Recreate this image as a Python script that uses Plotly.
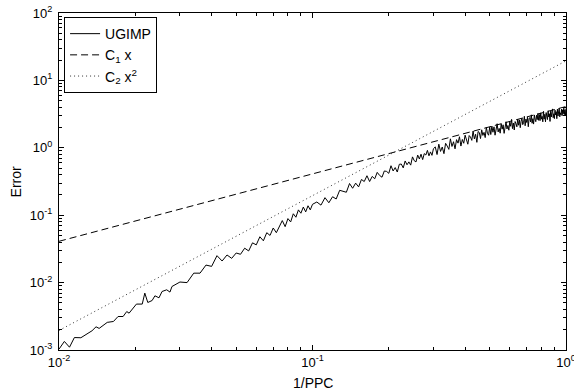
import plotly.graph_objects as go

# ---- data ----
x_sparse = [0.0100, 0.0105, 0.0110, 0.0115, 0.0122, 0.0130, 0.0135, 0.0140, 0.0144, 0.0155,
            0.0164, 0.0171, 0.0179, 0.0185, 0.0189, 0.0202, 0.0213, 0.0218, 0.0224, 0.0233,
            0.0239, 0.0248, 0.0255, 0.0266, 0.0274, 0.0279]
y_sparse = [0.00103, 0.00134, 0.00110, 0.00153, 0.00152, 0.00178, 0.00193, 0.00221, 0.00209, 0.00257,
            0.00265, 0.00314, 0.00314, 0.00372, 0.00352, 0.00480, 0.00480, 0.00698, 0.00507, 0.00542,
            0.00637, 0.00595, 0.00738, 0.00782, 0.00723, 0.00875]

x_b = [0.030, 0.032, 0.034, 0.036, 0.038, 0.040, 0.042, 0.044, 0.046, 0.048,
       0.050, 0.052, 0.054, 0.056, 0.058, 0.060, 0.062, 0.064, 0.066, 0.068,
       0.070, 0.072, 0.074, 0.076, 0.078, 0.080, 0.082, 0.084, 0.086, 0.088,
       0.090, 0.092, 0.094, 0.096, 0.098, 0.100]
y_b = [0.0102, 0.0100, 0.0138, 0.0138, 0.0182, 0.0174, 0.0251, 0.0209, 0.0257, 0.0229,
       0.0275, 0.0263, 0.0324, 0.0295, 0.0389, 0.0363, 0.0479, 0.0417, 0.0550, 0.0501,
       0.0646, 0.0550, 0.0692, 0.0832, 0.0676, 0.0891, 0.0794, 0.105, 0.0933, 0.120,
       0.107, 0.132, 0.112, 0.138, 0.120, 0.145]

x_c = [0.104, 0.108, 0.112, 0.116, 0.120, 0.124, 0.128, 0.132, 0.136, 0.140,
       0.144, 0.148, 0.152, 0.156, 0.160, 0.164, 0.168, 0.172, 0.176, 0.180,
       0.184, 0.188, 0.192, 0.196, 0.200, 0.204, 0.208, 0.212, 0.216, 0.220,
       0.224, 0.228, 0.232, 0.236, 0.240, 0.244, 0.248, 0.252, 0.256, 0.260,
       0.264, 0.268, 0.272, 0.276, 0.280, 0.284, 0.288, 0.292, 0.296, 0.300]
y_c = [0.157, 0.141, 0.182, 0.153, 0.188, 0.174, 0.234, 0.224, 0.219, 0.295,
       0.251, 0.299, 0.263, 0.339, 0.316, 0.385, 0.316, 0.376, 0.347, 0.432,
       0.389, 0.366, 0.453, 0.446, 0.418, 0.542, 0.453, 0.509, 0.437, 0.569,
       0.574, 0.504, 0.638, 0.560, 0.618, 0.553, 0.733, 0.643, 0.617, 0.780,
       0.682, 0.804, 0.668, 0.820, 0.782, 0.916, 0.760, 0.869, 0.773, 0.970]

x_d = [0.305, 0.310, 0.315, 0.320, 0.325, 0.330, 0.335, 0.340, 0.345, 0.350,
       0.355, 0.360, 0.365, 0.370, 0.375, 0.380, 0.385, 0.390, 0.395, 0.400,
       0.405, 0.410, 0.415, 0.420, 0.425, 0.430, 0.435, 0.440, 0.445, 0.450,
       0.455, 0.460, 0.465, 0.470, 0.475, 0.480, 0.485, 0.490, 0.495, 0.500,
       0.505, 0.510, 0.515, 0.520, 0.525, 0.530, 0.535, 0.540, 0.545, 0.550,
       0.555, 0.560, 0.565, 0.570, 0.575, 0.580, 0.585, 0.590, 0.595, 0.600,
       0.605, 0.610, 0.615, 0.620, 0.625, 0.630, 0.635, 0.640, 0.645, 0.650,
       0.655, 0.660, 0.665, 0.670, 0.675, 0.680, 0.685, 0.690, 0.695, 0.700,
       0.705, 0.710, 0.715, 0.720, 0.725, 0.730, 0.735, 0.740, 0.745, 0.750,
       0.755, 0.760, 0.765, 0.770, 0.775, 0.780, 0.785, 0.790, 0.795, 0.800,
       0.805, 0.810, 0.815, 0.820, 0.825, 0.830, 0.835, 0.840, 0.845, 0.850,
       0.855, 0.860, 0.865, 0.870, 0.875, 0.880, 0.885, 0.890, 0.895, 0.900,
       0.905, 0.910, 0.915, 0.920, 0.925, 0.930, 0.935, 0.940, 0.945, 0.950,
       0.955, 0.960, 0.965, 0.970, 0.975, 0.980, 0.985, 0.990, 0.995, 1.000]
y_d = [1.031, 0.794, 1.132, 0.884, 1.028, 0.818, 1.166, 1.060, 0.948, 1.358,
       1.047, 1.231, 0.965, 1.321, 1.173, 1.458, 1.061, 1.329, 1.168, 1.540,
       1.279, 1.130, 1.519, 1.443, 1.288, 1.773, 1.354, 1.588, 1.205, 1.745,
       1.686, 1.371, 1.849, 1.526, 1.694, 1.418, 2.011, 1.640, 1.537, 2.028,
       1.573, 2.102, 1.702, 2.046, 1.538, 1.986, 2.275, 1.719, 1.941, 1.648,
       2.258, 1.890, 2.193, 1.638, 2.124, 2.436, 1.903, 2.143, 1.824, 2.408,
       2.085, 2.642, 1.926, 2.334, 1.839, 2.452, 2.271, 2.047, 2.675, 2.162,
       2.593, 1.987, 2.465, 2.739, 2.204, 2.350, 2.932, 2.123, 2.667, 2.376,
       2.841, 2.051, 2.700, 2.811, 2.417, 3.082, 2.311, 2.703, 2.249, 3.073,
       2.663, 2.440, 3.039, 2.619, 3.227, 2.555, 3.117, 2.532, 3.300, 2.659,
       2.928, 2.431, 3.472, 2.662, 3.144, 2.429, 3.332, 2.980, 2.624, 3.541,
       2.864, 3.200, 2.460, 3.502, 2.865, 3.372, 3.774, 2.796, 3.198, 2.710,
       3.621, 3.074, 3.428, 2.704, 3.745, 2.958, 3.376, 3.854, 2.883, 3.304,
       3.085, 3.747, 2.994, 3.661, 3.200, 3.873, 3.107, 3.665, 3.012, 3.818]

ugimp_x = x_sparse + x_b + x_c + x_d
ugimp_y = y_sparse + y_b + y_c + y_d

ref_x = [0.01, 1.0]
c1_y = [0.041, 4.1]       # C1 x
c2_y = [0.00195, 19.5]    # C2 x^2

x_tickvals = [0.01, 0.1, 1]
x_ticktext = ["10<sup>-2</sup>", "10<sup>-1</sup>", "10<sup>0</sup>"]
y_tickvals = [1e-3, 1e-2, 1e-1, 1e0, 1e1, 1e2]
y_ticktext = ["10<sup>-3</sup>", "10<sup>-2</sup>", "10<sup>-1</sup>",
              "10<sup>0</sup>", "10<sup>1</sup>", "10<sup>2</sup>"]

# ---- figure ----
FONT = "Liberation Sans, Arial, Helvetica, sans-serif"

fig = go.Figure()
fig.add_trace(go.Scatter(x=ugimp_x, y=ugimp_y, mode="lines", name="UGIMP",
                         line=dict(color="black", width=1)))
fig.add_trace(go.Scatter(x=ref_x, y=c1_y, mode="lines", name="C<sub>1</sub> x",
                         line=dict(color="black", width=1, dash="7px,4px")))
fig.add_trace(go.Scatter(x=ref_x, y=c2_y, mode="lines", name="C<sub>2</sub> x<sup>2</sup>",
                         line=dict(color="#333333", width=1, dash="1px,3px")))

minor_x = [m * 10 ** e for e in (-2, -1) for m in range(2, 10)]
minor_y = [m * 10 ** e for e in (-3, -2, -1, 0, 1) for m in range(2, 10)]

axis_common = dict(
    type="log", showgrid=False, zeroline=False, automargin=False,
    showline=True, linecolor="black", linewidth=1, mirror="allticks",
    ticks="inside", ticklen=5, tickcolor="black", tickwidth=1,
    ticklabeloverflow="allow",
    tickfont=dict(family=FONT, size=13, color="black"),
)

fig.update_xaxes(**axis_common, range=[-2, 0], tickmode="array",
                 tickvals=x_tickvals, ticktext=x_ticktext,
                 minor=dict(tickvals=minor_x, ticks="inside", ticklen=3,
                            tickcolor="black", showgrid=False))
fig.update_yaxes(**axis_common, range=[-3, 2], tickmode="array",
                 tickvals=y_tickvals, ticktext=y_ticktext, ticklabelstandoff=3,
                 minor=dict(tickvals=minor_y, ticks="inside", ticklen=3,
                            tickcolor="black", showgrid=False))

fig.add_annotation(text="1/PPC", xref="paper", yref="paper", x=0.5, y=-0.098,
                   xanchor="center", yanchor="middle", showarrow=False,
                   font=dict(family=FONT, size=14, color="black"))
fig.add_annotation(text="Error", xref="paper", yref="paper", x=-0.085, y=0.5,
                   xanchor="center", yanchor="middle", showarrow=False, textangle=-90,
                   font=dict(family=FONT, size=14, color="black"))

fig.update_layout(
    width=574, height=391,
    margin=dict(l=59, r=8, t=13, b=41),
    paper_bgcolor="white", plot_bgcolor="white",
    font=dict(family=FONT, size=13, color="black"),
    showlegend=True,
    legend=dict(x=0.01, y=0.988, xanchor="left", yanchor="top",
                bgcolor="white", bordercolor="black", borderwidth=1,
                font=dict(family=FONT, size=14, color="black"),
                tracegroupgap=0, itemwidth=30),
)

# remove the default 8px page margin so the figure fills the window exactly
fig.write_html("out.html", config={"displayModeBar": False},
               post_script="document.body.style.margin='0';")
